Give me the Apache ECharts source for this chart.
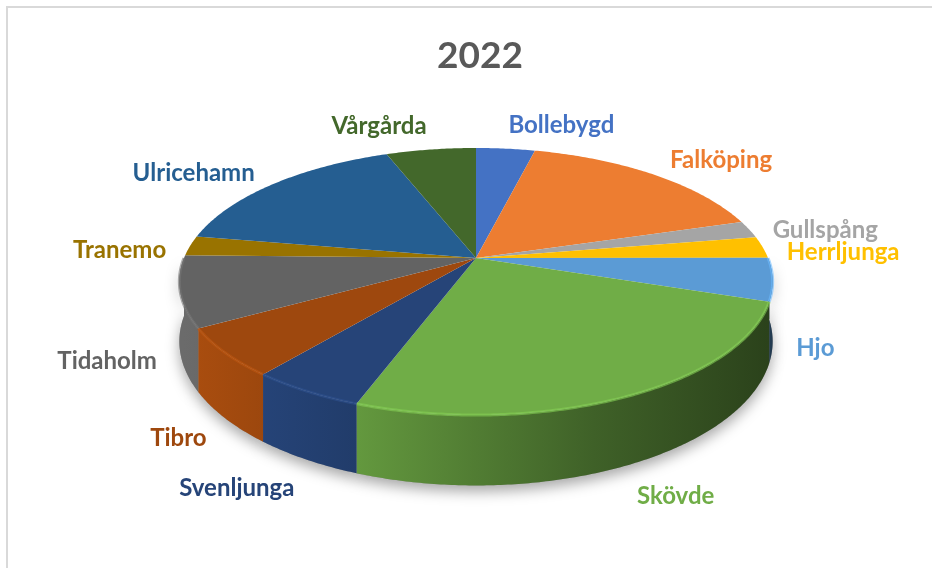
<!DOCTYPE html>
<html>
<head>
<meta charset="utf-8">
<script src="https://cdn.jsdelivr.net/npm/echarts@6/dist/echarts.min.js"></script>
<style>
html, body { margin: 0; padding: 0; background: #fff; }
#chart { width: 932px; height: 568px; }
</style>
</head>
<body>
<div id="chart"></div>
<script>
var rubrik = '2022';
var kommuner = ['Bollebygd', 'Falköping', 'Gullspång', 'Herrljunga', 'Hjo', 'Skövde', 'Svenljunga', 'Tibro', 'Tidaholm', 'Tranemo', 'Ulricehamn', 'Vårgårda'];
var andel = [3.8, 16.5, 2.1, 2.6, 5.2, 25.4, 5.3, 5.9, 8.6, 2.4, 16.5, 5.8];
var farger = ['#4472C4', '#ED7D31', '#A5A5A5', '#FFC000', '#5B9BD5', '#70AD47', '#264478', '#9E480E', '#636363', '#997300', '#255E91', '#43682B'];

var chartDom = document.getElementById('chart');
var myChart = echarts.init(chartDom);

var total = 0;
var start = [];
for (var i = 0; i < andel.length; i++) {
    start.push(total);
    total += andel[i];
}

// tilted disc seen in perspective (like the excel 3d pie)
var cx = 476, cy = 258, A = 292, B = 129.4, K = 0.176, D = 58;

function proj(t, drop) {
    var u = Math.sin(t), v = -Math.cos(t);
    var w = 1 - K * v;
    return [cx + A * u / w, cy + (B * v + drop) / w];
}

function shade(hex, f) {
    var n = parseInt(hex.slice(1), 16);
    var r = Math.min(255, Math.round(((n >> 16) & 255) * f));
    var g = Math.min(255, Math.round(((n >> 8) & 255) * f));
    var b = Math.min(255, Math.round((n & 255) * f));
    return 'rgb(' + r + ',' + g + ',' + b + ')';
}

function renderItem(params, api) {
    var i = params.dataIndex;
    var c = farger[i];
    var a0 = start[i] / total * 2 * Math.PI;
    var a1 = (start[i] + api.value(0)) / total * 2 * Math.PI;
    var children = [];
    var j, n;

    // side wall, only the front half shows
    var s0 = Math.max(a0, Math.PI / 2), s1 = Math.min(a1, 1.5 * Math.PI);
    if (s1 > s0) {
        var side = [], rim = [];
        n = Math.max(2, Math.ceil((s1 - s0) / 0.01));
        for (j = 0; j <= n; j++) rim.push(proj(s0 + (s1 - s0) * j / n, 0));
        side = rim.slice();
        for (j = n; j >= 0; j--) side.push(proj(s0 + (s1 - s0) * j / n, D));
        children.push({
            type: 'polygon',
            z2: 0,
            shape: { points: side },
            style: { fill: '#999', shadowBlur: 14, shadowColor: 'rgba(0,0,0,0.35)', shadowOffsetY: 6 }
        });
        children.push({
            type: 'polygon',
            z2: 1,
            shape: { points: side },
            style: {
                fill: new echarts.graphic.LinearGradient(cx - A, 0, cx + A, 0, [
                    { offset: 0, color: shade(c, 1.08) },
                    { offset: 0.3, color: shade(c, 0.88) },
                    { offset: 0.7, color: shade(c, 0.56) },
                    { offset: 1, color: shade(c, 0.38) }
                ], true)
            }
        });
        children.push({
            type: 'polyline',
            z2: 3,
            shape: { points: rim },
            style: { stroke: shade(c, 1.2), lineWidth: 3, opacity: 0.6, fill: null }
        });
    }

    // top face
    var top = [[cx, cy]];
    n = Math.max(2, Math.ceil((a1 - a0) / 0.01));
    for (j = 0; j <= n; j++) top.push(proj(a0 + (a1 - a0) * j / n, 0));
    children.push({ type: 'polygon', z2: 2, shape: { points: top }, style: { fill: c } });

    // label outside the slice, below the wall for the front half
    var m = (a0 + a1) / 2;
    var u = Math.sin(m), v = -Math.cos(m);
    var front = v > 0;
    var p = proj(m, front ? D : 0);
    var dy = front ? 8 + 28 * v * v : 24 * v + 7 * (1 - v * v);
    children.push({
        type: 'text',
        z2: 4,
        style: {
            text: kommuner[i],
            x: p[0] + 24 * u,
            y: p[1] + dy,
            fill: c,
            font: 'bold 24px Lato',
            align: u >= 0 ? 'left' : 'right',
            verticalAlign: 'middle'
        }
    });

    return { type: 'group', children: children };
}

var data = [];
for (var i = 0; i < kommuner.length; i++) {
    data.push({ name: kommuner[i], value: andel[i] });
}

var option = {
    backgroundColor: '#fff',
    animation: false,
    title: {
        text: rubrik,
        left: 475,
        top: 33,
        textAlign: 'center',
        textStyle: { fontFamily: 'Lato', fontWeight: 'bold', fontSize: 37, color: '#595959' }
    },
    graphic: [{
        type: 'rect',
        shape: { x: 7, y: 7, width: 940, height: 580 },
        style: { fill: 'none', stroke: '#d9d9d9', lineWidth: 2 },
        silent: true
    }],
    series: [{
        type: 'custom',
        coordinateSystem: 'none',
        renderItem: renderItem,
        data: data
    }]
};

option && myChart.setOption(option);
</script>
</body>
</html>
